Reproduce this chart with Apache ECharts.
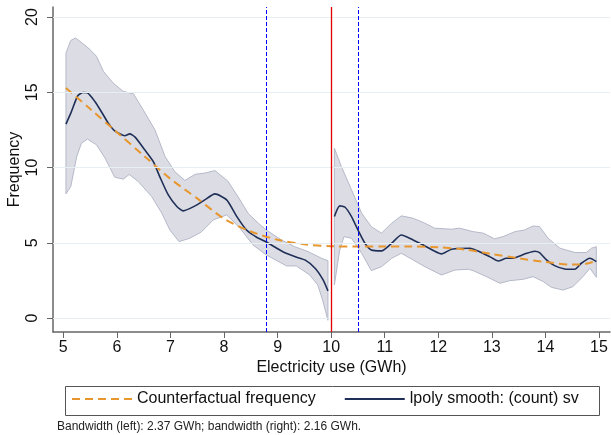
<!DOCTYPE html>
<html>
<head>
<meta charset="utf-8">
<script src="https://cdn.jsdelivr.net/npm/echarts@6/dist/echarts.min.js"></script>
<style>
html,body{margin:0;padding:0;background:#fff;}
#chart{width:611px;height:435px;}
</style>
</head>
<body>
<div id="chart"></div>
<script>
// ---- data ----
const xTicks = [5, 6, 7, 8, 9, 10, 11, 12, 13, 14, 15];
const yTicks = [0, 5, 10, 15, 20];
const cutoff = 10;
const bandwidthLines = [8.78, 10.5];

const leftSmooth = [[5.05,12.89],[5.15,13.7],[5.27,14.77],[5.37,14.99],[5.45,14.97],[5.59,14.39],[5.72,13.66],[5.84,12.95],[5.96,12.44],[6.15,12.11],[6.24,12.24],[6.34,12.02],[6.52,11.18],[6.68,10.40],[6.80,9.40],[6.96,8.18],[7.12,7.41],[7.24,7.12],[7.46,7.45],[7.64,7.85],[7.83,8.25],[8.05,7.85],[8.24,6.74],[8.42,5.85],[8.61,5.37],[8.79,5.05],[9.10,4.40],[9.32,4.08],[9.51,3.86],[9.70,3.31],[9.85,2.53],[9.94,1.80]];
const leftUpper = [[5.05,17.6],[5.14,18.45],[5.23,18.61],[5.47,17.94],[5.62,17.39],[5.75,16.39],[5.93,15.62],[6.12,15.06],[6.31,14.90],[6.49,13.84],[6.71,12.51],[6.90,10.73],[7.08,9.73],[7.27,9.14],[7.46,9.55],[7.64,9.63],[7.83,9.80],[8.07,9.1],[8.26,8.07],[8.45,6.96],[8.64,6.30],[8.79,5.85],[9.07,5.19],[9.32,4.74],[9.57,4.41],[9.82,3.97],[9.94,3.81]];
const leftLower = [[5.05,8.25],[5.14,8.74],[5.25,10.73],[5.34,11.62],[5.45,11.89],[5.62,11.51],[5.78,10.63],[5.96,9.36],[6.12,9.23],[6.23,9.54],[6.40,9.07],[6.65,8.07],[6.84,6.96],[6.99,5.85],[7.16,5.08],[7.36,5.30],[7.57,5.70],[7.80,6.52],[8.05,6.85],[8.30,5.97],[8.54,4.86],[8.79,4.19],[9.17,3.46],[9.35,3.46],[9.60,2.86],[9.75,2.2],[9.84,1.2],[9.94,-0.15]];

const rightSmooth = [[10.06,6.74],[10.16,7.45],[10.26,7.36],[10.38,6.74],[10.50,5.85],[10.63,4.97],[10.75,4.52],[10.94,4.46],[11.13,4.97],[11.31,5.52],[11.53,5.19],[11.75,4.79],[12.06,4.26],[12.25,4.57],[12.59,4.64],[12.77,4.41],[12.96,4.08],[13.12,3.79],[13.27,3.97],[13.40,3.97],[13.52,4.12],[13.65,4.30],[13.80,4.44],[13.89,4.35],[14.02,3.86],[14.17,3.48],[14.36,3.26],[14.55,3.24],[14.67,3.64],[14.83,3.97],[14.95,3.75]];
const rightUpper = [[10.06,11.29],[10.19,10.07],[10.38,8.52],[10.57,6.96],[10.75,6.07],[10.94,5.64],[11.13,6.30],[11.31,6.79],[11.53,6.63],[11.75,6.30],[11.93,5.97],[12.25,5.90],[12.40,5.97],[12.65,5.74],[12.84,5.64],[13.05,5.26],[13.21,5.41],[13.43,5.74],[13.61,5.85],[13.77,6.12],[13.89,6.07],[14.05,5.30],[14.27,4.64],[14.55,4.35],[14.76,4.35],[14.86,4.64],[14.95,4.74]];
const rightLower = [[10.06,2.20],[10.16,4.52],[10.24,5.41],[10.38,5.30],[10.57,4.30],[10.75,3.15],[10.94,3.41],[11.13,3.97],[11.31,4.30],[11.53,3.86],[11.75,3.41],[12.06,2.86],[12.31,3.19],[12.56,3.24],[12.65,3.15],[12.90,2.75],[13.15,2.31],[13.33,2.48],[13.58,2.57],[13.77,2.75],[13.96,2.42],[14.11,2.04],[14.33,1.86],[14.51,2.08],[14.70,2.75],[14.83,3.31],[14.95,2.71]];

const counterfactual = [[5.05,15.28],[5.5,13.9],[6,12.35],[6.5,10.8],[7,9.25],[7.5,7.95],[8,6.6],[8.5,5.75],[9,5.2],[9.5,4.9],[10,4.77],[10.5,4.75],[11,4.76],[11.5,4.76],[12,4.7],[12.5,4.55],[13,4.25],[13.5,3.97],[14,3.72],[14.5,3.55],[14.75,3.6],[14.95,3.8]];

const nameCF = 'Counterfactual frequency';
const nameLP = 'lpoly smooth: (count) sv';
const footnote = 'Bandwidth (left): 2.37 GWh; bandwidth (right): 2.16 GWh.';

// ---- chart ----
const FONT = '"Liberation Sans", Arial, sans-serif';
const chart = echarts.init(document.getElementById('chart'), null, {renderer: 'canvas'});

function band(upper, lower) {
  const pts = upper.concat(lower.slice().reverse());
  return {
    type: 'custom', data: pts, silent: true, z: 1, clip: true,
    encode: {x: 0, y: 1},
    renderItem: function (params, api) {
      if (params.dataIndex !== 0) return null;
      return {
        type: 'polygon',
        shape: {points: pts.map(p => api.coord(p))},
        style: {fill: '#dcdde4', stroke: '#b4b9c9', lineWidth: 1}
      };
    }
  };
}

const lpStyle = {color: '#1f2f57', width: 1.6};
const option = {
  animation: false,
  backgroundColor: '#fff',
  grid: {left: 53, top: 7, width: 557, height: 325, containLabel: false, outerBoundsMode: 'none'},
  xAxis: {
    type: 'value', min: 4.808, max: 15.205,
    name: 'Electricity use (GWh)', nameLocation: 'middle', nameGap: 28, nameMoveOverlap: false,
    nameTextStyle: {fontFamily: FONT, fontSize: 16, color: '#111'},
    axisLine: {show: true, onZero: false, lineStyle: {color: '#666', width: 1.5}},
    axisTick: {show: true, length: 6, lineStyle: {color: '#666', width: 1}, customValues: xTicks},
    axisLabel: {fontFamily: FONT, fontSize: 16, color: '#111', margin: 8, customValues: xTicks},
    splitLine: {show: false}
  },
  yAxis: {
    type: 'value', min: -0.93, max: 20.67,
    name: 'Frequency', nameLocation: 'middle', nameGap: 30, nameMoveOverlap: false,
    nameTextStyle: {fontFamily: FONT, fontSize: 16, color: '#111'},
    axisLine: {show: true, onZero: false, lineStyle: {color: '#666', width: 1.5}},
    axisTick: {show: true, length: 6, lineStyle: {color: '#666', width: 1}, customValues: yTicks},
    axisLabel: {fontFamily: FONT, fontSize: 16, color: '#111', margin: 12, rotate: 90, customValues: yTicks},
    splitLine: {show: false}
  },
  legend: {
    left: 71, top: 391, padding: 0, itemWidth: 60, itemHeight: 14, itemGap: 28, itemTextGap: 10,
    itemStyle: {opacity: 0},
    textStyle: {fontFamily: FONT, fontSize: 16, color: '#111'},
    data: [nameCF, nameLP]
  },
  graphic: [
    {type: 'rect', left: 63, top: 384, shape: {width: 534, height: 29}, style: {fill: 'none', stroke: '#555', lineWidth: 1}, silent: true},
    {type: 'text', left: 57, top: 421, style: {text: footnote, fontFamily: FONT, fontSize: 12, fill: '#222'}, silent: true}
  ],
  series: [
    // gridlines
    {type: 'line', data: [], silent: true, z: 0,
     markLine: {silent: true, symbol: 'none', label: {show: false},
       lineStyle: {color: '#e6eff1', width: 1, type: 'solid'},
       data: yTicks.map(v => ({yAxis: v}))}},
    band(leftUpper, leftLower),
    band(rightUpper, rightLower),
    {type: 'line', name: nameLP, data: leftSmooth, showSymbol: false, symbol: 'none', smooth: 0.2, lineStyle: lpStyle, itemStyle: {color: '#1f2f57'}, z: 3},
    {type: 'line', name: nameLP, data: rightSmooth, showSymbol: false, symbol: 'none', smooth: 0.2, lineStyle: lpStyle, itemStyle: {color: '#1f2f57'}, z: 3},
    {type: 'line', name: nameCF, data: counterfactual, showSymbol: false, symbol: 'none', smooth: 0.3,
     lineStyle: {color: '#e8962e', width: 2, type: [8, 5]}, itemStyle: {color: '#e8962e'}, z: 4},
    // vertical reference lines
    {type: 'line', data: [], silent: true, z: 5,
     markLine: {silent: true, symbol: 'none', label: {show: false},
       data: [
         {xAxis: bandwidthLines[0], lineStyle: {color: '#0000ff', width: 1, type: [4, 2]}},
         {xAxis: bandwidthLines[1], lineStyle: {color: '#0000ff', width: 1, type: [4, 2]}},
         {xAxis: cutoff, lineStyle: {color: '#e00000', width: 1.3, type: 'solid'}}
       ]}}
  ]
};
chart.setOption(option);
</script>
</body>
</html>
